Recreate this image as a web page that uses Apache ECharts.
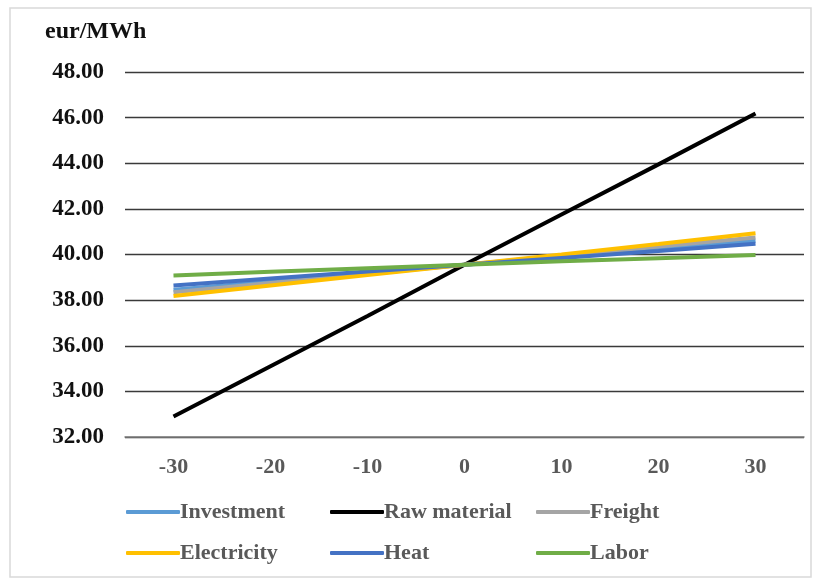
<!DOCTYPE html>
<html><head><meta charset="utf-8">
<script src="https://cdn.jsdelivr.net/npm/echarts@6/dist/echarts.min.js"></script>
<style>html,body{margin:0;padding:0;background:#fff}#c{width:816px;height:581px}</style>
</head><body><div id="c"></div>
<script>
const categories = ['-30','-20','-10','0','10','20','30'];
const investment  = [38.45, 38.82, 39.18, 39.55, 39.90, 40.25, 40.60];
const rawMaterial = [32.90, 35.10, 37.30, 39.55, 41.75, 43.95, 46.18];
const freight     = [38.35, 38.75, 39.15, 39.55, 39.95, 40.35, 40.75];
const electricity = [38.18, 38.64, 39.10, 39.55, 40.00, 40.46, 40.93];
const heat        = [38.64, 38.95, 39.25, 39.55, 39.85, 40.15, 40.47];
const labor       = [39.08, 39.24, 39.40, 39.55, 39.70, 39.84, 39.98];
const seriesNames = ['Investment','Raw material','Freight','Electricity','Heat','Labor'];
const seriesData = [investment, rawMaterial, freight, electricity, heat, labor];
const colors = ['#5B9BD5','#000000','#A5A5A5','#FFC000','#4472C4','#70AD47'];
const yTitle = 'eur/MWh';

const font = 'Liberation Serif';
const chart = echarts.init(document.getElementById('c'));
const colX = [121, 325, 531];
const rowY = [496, 537];
const legends = seriesNames.map((n, i) => ({
  left: colX[i % 3], top: rowY[Math.floor(i / 3)],
  itemWidth: 54, itemHeight: 4, icon: 'roundRect', data: [n],
  textStyle: {fontFamily: font, fontWeight: 'bold', fontSize: 22, color: '#595959', padding: [0,0,0,-5]}
}));
chart.setOption({
  animation: false,
  color: colors,
  graphic: [{type:'rect', shape:{x:10,y:8,width:801,height:569}, style:{fill:'none', stroke:'#d9d9d9', lineWidth:1.5}, silent:true}],
  grid: {left: 125, right: 12, top: 72, bottom: 144},
  legend: legends,
  xAxis: {
    type: 'category', data: categories, boundaryGap: true,
    axisTick: {show: false},
    axisLine: {lineStyle: {color: '#808080', width: 1.5}},
    axisLabel: {fontFamily: font, fontWeight: 'bold', fontSize: 22, color: '#595959', margin: 19}
  },
  yAxis: {
    type: 'value', min: 32, max: 48, interval: 2,
    name: yTitle, nameLocation: 'end', nameGap: 28,
    nameTextStyle: {fontFamily: font, fontWeight: 'bold', fontSize: 24, color: '#111', align: 'left', padding: [0,0,0,-80]},
    axisLine: {show: false}, axisTick: {show: false},
    splitLine: {lineStyle: {color: '#3a3a3a', width: 1.3}},
    axisLabel: {fontFamily: font, fontWeight: 'bold', fontSize: 23, color: '#111', margin: 21,
      formatter: v => v.toFixed(2)}
  },
  series: seriesNames.map((n,i) => ({
    name: n, type: 'line', data: seriesData[i], showSymbol: false, symbol: 'none',
    lineStyle: {width: 4, color: colors[i]}
  }))
});
</script></body></html>
